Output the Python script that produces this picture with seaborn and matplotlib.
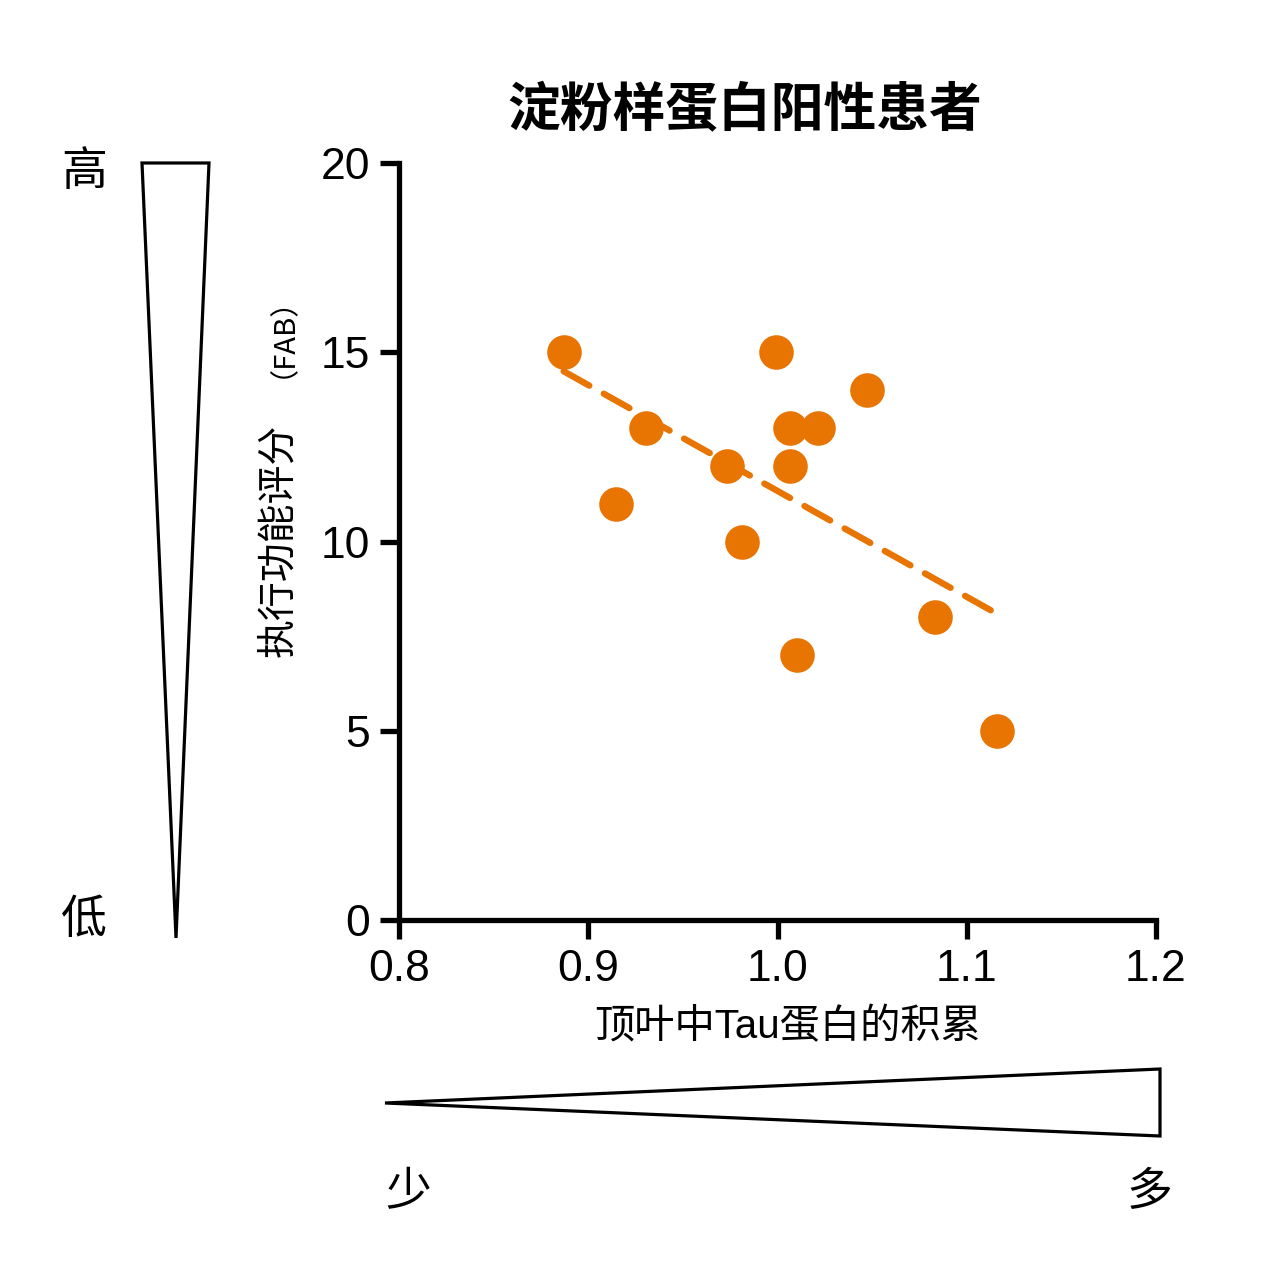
import matplotlib
matplotlib.use("Agg")
import matplotlib.pyplot as plt
import seaborn as sns
import numpy as np
import pandas as pd
from matplotlib.patches import Polygon

# Data
tau = [0.887, 0.9305, 0.9147, 0.9733, 0.9812, 0.9992, 1.0066, 1.0214, 1.0066, 1.0473, 1.0832, 1.0103, 1.116]
fab = [15, 13, 11, 12, 10, 15, 13, 13, 12, 14, 8, 7, 5]
x_ticks = [0.8, 0.9, 1.0, 1.1, 1.2]
x_tick_labels = ["0.8", "0.9", "1.0", "1.1", "1.2"]
y_ticks = [0, 5, 10, 15, 20]
title = "淀粉样蛋白阳性患者"
xlabel = "顶叶中Tau蛋白的积累"
ylabel_main = "执行功能评分"
ylabel_sub = "（FAB）"

sns.set_theme(style="ticks")
plt.rcParams['font.family'] = ['Liberation Sans', 'Noto Sans CJK SC', 'DejaVu Sans']
plt.rcParams['text.color'] = 'black'

W = 1278
fig = plt.figure(figsize=(12.78, 12.78), dpi=100)
ax = fig.add_axes([399 / W, 1 - 920 / W, (1156 - 399) / W, (920 - 163) / W])

df = pd.DataFrame({"tau": tau, "fab": fab})
color = "#E87402"
sns.regplot(data=df, x="tau", y="fab", ax=ax, ci=None, color=color,
            scatter_kws=dict(s=620, alpha=1, linewidths=0, zorder=3),
            line_kws=dict(lw=4.6, ls=(0, (4.6, 2.6)),
                          dash_capstyle="round", zorder=2))

ax.set_xlim(0.8, 1.2)
ax.set_ylim(0, 20)
ax.set_xticks(x_ticks)
ax.set_xticklabels(x_tick_labels)
ax.set_yticks(y_ticks)
for s in ["top", "right"]:
    ax.spines[s].set_visible(False)
for s in ["left", "bottom"]:
    ax.spines[s].set_linewidth(3.8)
    ax.spines[s].set_color("black")
ax.tick_params(axis="both", which="major", length=14, width=3.8, labelsize=32,
               colors="black", labelcolor="black", direction="out", pad=7)
ax.set_xlabel("")
ax.set_ylabel("")

cjk = ['Liberation Sans', 'Noto Sans CJK SC']

fig.text(745 / W, 1 - 110 / W, title, fontsize=38, fontweight="bold", color="black",
         ha="center", va="center", family=['Noto Sans CJK SC'])
fig.text(788 / W, 1 - 1027 / W, xlabel, fontsize=29, fontweight="medium", color="black",
         ha="center", va="center", family=cjk)

# y label parts
fig.text(278 / W, 1 - 540 / W, ylabel_main, rotation=90, fontsize=28, color="black",
         fontweight="medium", ha="center", va="center", family=['Noto Sans CJK SC'])
fig.text(268 / W, 1 - 322 / W, ylabel_sub, rotation=90, fontsize=21, color="black",
         fontweight="medium", ha="center", va="center", family=['Noto Sans CJK SC'])

# Triangles
def fp(px, py):
    return (px / W, 1 - py / W)

tri_left = Polygon([fp(142, 163), fp(209, 163), fp(176, 938)], closed=True,
                   facecolor="white", edgecolor="black", lw=2.3,
                   transform=fig.transFigure, joinstyle="miter")
tri_bottom = Polygon([fp(385, 1103), fp(1160, 1069), fp(1160, 1136)], closed=True,
                     facecolor="white", edgecolor="black", lw=2.3,
                     transform=fig.transFigure, joinstyle="miter")
fig.add_artist(tri_left)
fig.add_artist(tri_bottom)

for txt, px, py in [("高", 84, 172), ("低", 84, 920), ("少", 408, 1192), ("多", 1150, 1192)]:
    fig.text(px / W, 1 - py / W, txt, fontsize=33, fontweight="medium", color="black",
             ha="center", va="center", family=['Noto Sans CJK SC'])

fig.savefig("out.png", dpi=100, facecolor="white")
